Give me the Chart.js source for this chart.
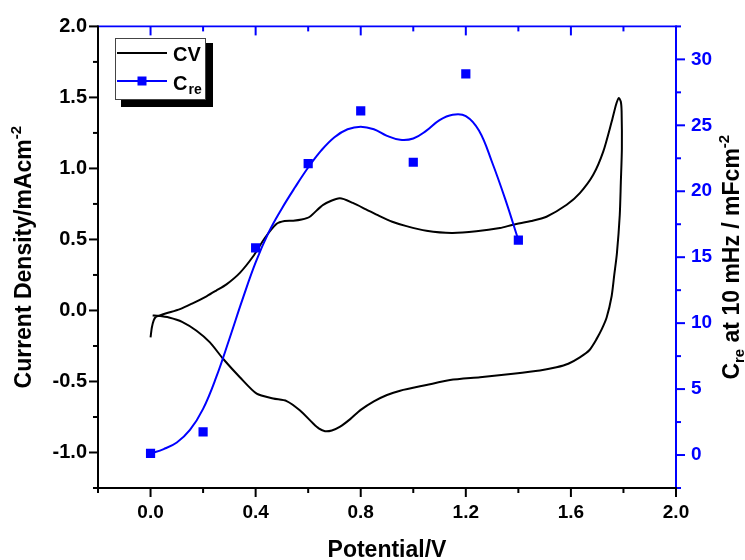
<!DOCTYPE html>
<html>
<head>
<meta charset="utf-8">
<script src="https://cdn.jsdelivr.net/npm/chart.js@4.4.1/dist/chart.umd.min.js"></script>
<style>
  html, body { margin: 0; padding: 0; background: #fff; }
</style>
</head>
<body>
<canvas id="myChart" width="745" height="560"></canvas>
<script>
// values

// CV loop: forward scan then return scan
let cvPotential = [0.000, 0.005, 0.012, 0.020, 0.035, 0.060, 0.112, 0.160, 0.213, 0.250, 0.289, 0.340, 0.390, 0.435, 0.480, 0.510, 0.543, 0.575, 0.606, 0.657, 0.720, 0.770, 0.820, 0.870, 0.920, 0.974, 1.050, 1.146, 1.240, 1.330, 1.380, 1.450, 1.507, 1.584, 1.634, 1.685, 1.723, 1.755, 1.772, 1.782, 1.790, 1.793, 1.794, 1.790, 1.786, 1.775, 1.765, 1.755, 1.736, 1.718, 1.698, 1.670, 1.634, 1.590, 1.545, 1.482, 1.380, 1.254, 1.140, 1.050, 0.950, 0.900, 0.850, 0.800, 0.760, 0.720, 0.690, 0.664, 0.640, 0.619, 0.568, 0.518, 0.467, 0.404, 0.340, 0.276, 0.226, 0.175, 0.120, 0.070, 0.030, 0.008];
let cvCurrent = [-0.19, -0.12, -0.07, -0.045, -0.035, -0.02, 0.009, 0.05, 0.10, 0.14, 0.184, 0.265, 0.38, 0.51, 0.61, 0.63, 0.632, 0.64, 0.66, 0.744, 0.79, 0.757, 0.712, 0.666, 0.625, 0.594, 0.562, 0.546, 0.557, 0.58, 0.604, 0.63, 0.66, 0.744, 0.826, 0.955, 1.118, 1.328, 1.45, 1.496, 1.47, 1.40, 1.14, 0.90, 0.674, 0.40, 0.25, 0.10, -0.05, -0.13, -0.20, -0.28, -0.33, -0.375, -0.40, -0.423, -0.446, -0.47, -0.49, -0.525, -0.565, -0.595, -0.64, -0.70, -0.765, -0.82, -0.845, -0.85, -0.83, -0.796, -0.703, -0.638, -0.62, -0.586, -0.47, -0.34, -0.225, -0.143, -0.08, -0.05, -0.038, -0.035];

// C_re measured points
let crePotential = [0.0, 0.2, 0.4, 0.6, 0.8, 1.0, 1.2, 1.4];
let creValue = [0.12, 1.75, 15.7, 22.1, 26.1, 22.2, 28.9, 16.3];

// smoothed blue curve as drawn in the figure
let fitPotential = [0, 0.05, 0.1, 0.15, 0.2, 0.25, 0.3, 0.35, 0.4, 0.45, 0.5, 0.55, 0.6, 0.65, 0.7, 0.75, 0.8, 0.85, 0.9, 0.95, 1.0, 1.05, 1.1, 1.15, 1.2, 1.25, 1.3, 1.35, 1.4];
let fitValue = [0.12, 0.45, 0.95, 1.9, 3.5, 5.9, 8.8, 11.8, 14.6, 16.9, 18.7, 20.3, 21.8, 23.1, 24.1, 24.7, 24.9, 24.7, 24.2, 23.9, 24.0, 24.6, 25.4, 25.8, 25.7, 24.6, 22.2, 19.4, 16.3];

let xTicks = [0.0, 0.4, 0.8, 1.2, 1.6, 2.0];
let xMinor = [-0.2, 0.2, 0.6, 1.0, 1.4, 1.8];
let yTicks = [-1.0, -0.5, 0.0, 0.5, 1.0, 1.5, 2.0];
let yMinor = [-1.25, -0.75, -0.25, 0.25, 0.75, 1.25, 1.75];
let y1Ticks = [0, 5, 10, 15, 20, 25, 30];
let y1Minor = [-2.5, 2.5, 7.5, 12.5, 17.5, 22.5, 27.5, 32.5];

const BLUE = '#0000ff';
const FONT = 'Liberation Sans, Arial, sans-serif';

function pts(xs, ys) {
    return xs.map((v, i) => ({x: v, y: ys[i]}));
}

// draw text made of pieces (for super/subscripts), centred on 0
function richText(ctx, parts) {
    let total = 0;
    parts.forEach(p => {
        ctx.font = 'bold ' + p.size + 'px ' + FONT;
        p.w = ctx.measureText(p.t).width;
        total += p.w;
    });
    let cx = -total / 2;
    parts.forEach(p => {
        ctx.font = 'bold ' + p.size + 'px ' + FONT;
        ctx.fillText(p.t, cx, p.dy || 0);
        cx += p.w;
    });
}

const framePlugin = {
    id: 'frame',
    afterDraw(chart) {
        const ctx = chart.ctx;
        const a = chart.chartArea;
        const sx = chart.scales.x, sy = chart.scales.y, sy1 = chart.scales.y1;

        function seg(x0, y0, x1, y1) {
            ctx.beginPath();
            ctx.moveTo(x0, y0);
            ctx.lineTo(x1, y1);
            ctx.stroke();
        }

        ctx.save();
        ctx.lineCap = 'butt';
        ctx.lineWidth = 2;

        // black ticks: bottom (outward) and left (outward)
        ctx.strokeStyle = '#000';
        xTicks.forEach(v => { let p = sx.getPixelForValue(v); seg(p, a.bottom, p, a.bottom + 9); });
        xMinor.forEach(v => { let p = sx.getPixelForValue(v); seg(p, a.bottom, p, a.bottom + 5); });
        yTicks.forEach(v => { let p = sy.getPixelForValue(v); seg(a.left, p, a.left - 9, p); });
        yMinor.forEach(v => { let p = sy.getPixelForValue(v); seg(a.left, p, a.left - 5, p); });

        // blue ticks: top (inward) and right (outward)
        ctx.strokeStyle = BLUE;
        xTicks.forEach(v => { let p = sx.getPixelForValue(v); seg(p, a.top, p, a.top + 9); });
        xMinor.forEach(v => { let p = sx.getPixelForValue(v); seg(p, a.top, p, a.top + 5); });
        y1Ticks.forEach(v => { let p = sy1.getPixelForValue(v); seg(a.right, p, a.right + 9, p); });
        y1Minor.forEach(v => { let p = sy1.getPixelForValue(v); seg(a.right, p, a.right + 5, p); });

        // axis lines
        ctx.strokeStyle = BLUE;
        ctx.lineWidth = 1.7;
        seg(a.left, a.top, a.right, a.top);
        ctx.lineWidth = 2;
        seg(a.right, a.top - 1, a.right, a.bottom + 1);
        ctx.strokeStyle = '#000';
        seg(a.left, a.top - 1, a.left, a.bottom + 1);
        seg(a.left - 1, a.bottom, a.right + 1, a.bottom);

        // axis titles
        ctx.fillStyle = '#000';
        ctx.textBaseline = 'alphabetic';
        ctx.textAlign = 'left';
        let cy = (a.top + a.bottom) / 2;

        ctx.save();
        ctx.translate(31, cy);
        ctx.rotate(-Math.PI / 2);
        richText(ctx, [
            {t: 'Current Density/mAcm', size: 23},
            {t: '-2', size: 15, dy: -10}
        ]);
        ctx.restore();

        ctx.save();
        ctx.translate(739, cy);
        ctx.rotate(-Math.PI / 2);
        richText(ctx, [
            {t: 'C', size: 23},
            {t: 're', size: 15, dy: 5},
            {t: ' at 10 mHz / mFcm', size: 23},
            {t: '-2', size: 15, dy: -10}
        ]);
        ctx.restore();

        ctx.save();
        ctx.translate((a.left + a.right) / 2, 557);
        richText(ctx, [{t: 'Potential/V', size: 23}]);
        ctx.restore();

        // legend box with drop shadow
        ctx.fillStyle = '#000';
        ctx.fillRect(121, 43, 92, 64);
        ctx.fillStyle = '#fff';
        ctx.fillRect(115, 38, 91, 62);
        ctx.strokeStyle = '#444';
        ctx.lineWidth = 1;
        ctx.strokeRect(115.5, 38.5, 90, 61);

        ctx.lineWidth = 2;
        ctx.strokeStyle = '#000';
        seg(117, 53, 167, 53);
        ctx.strokeStyle = BLUE;
        seg(117, 81, 167, 81);
        ctx.fillStyle = BLUE;
        ctx.fillRect(137.5, 76.5, 9, 9);

        ctx.fillStyle = '#000';
        ctx.font = 'bold 20px ' + FONT;
        ctx.fillText('CV', 173, 61);
        ctx.fillText('C', 173, 90);
        let cw = ctx.measureText('C').width;
        ctx.font = 'bold 14px ' + FONT;
        ctx.fillText('re', 173 + cw + 1, 94);

        ctx.restore();
    }
};

let myChart = new Chart(document.querySelector('#myChart').getContext('2d'), {
    type: 'scatter',
    data: {
        datasets: [{
            label: 'C_re points',
            data: pts(crePotential, creValue),
            yAxisID: 'y1',
            showLine: false,
            pointStyle: 'rect',
            pointRadius: 6.5,
            pointHoverRadius: 6.5,
            backgroundColor: BLUE,
            borderColor: BLUE,
            borderWidth: 0,
            order: 0
        }, {
            label: 'C_re',
            data: pts(fitPotential, fitValue),
            yAxisID: 'y1',
            showLine: true,
            tension: 0.4,
            pointRadius: 0,
            borderColor: BLUE,
            borderWidth: 2,
            order: 1
        }, {
            label: 'CV',
            data: pts(cvPotential, cvCurrent),
            yAxisID: 'y',
            showLine: true,
            tension: 0.25,
            pointRadius: 0,
            borderColor: '#000',
            borderWidth: 2,
            order: 2
        }]
    },
    options: {
        responsive: false,
        animation: false,
        layout: {padding: {top: 24, left: 0, right: 0, bottom: 0}},
        plugins: {
            legend: {display: false},
            tooltip: {enabled: false}
        },
        scales: {
            x: {
                type: 'linear',
                position: 'bottom',
                min: -0.2,
                max: 2.0,
                afterBuildTicks: s => { s.ticks = xTicks.map(v => ({value: v})); },
                afterFit: s => { s.height = 72; },
                grid: {display: false, drawTicks: false},
                border: {display: false},
                ticks: {
                    autoSkip: false,
                    maxRotation: 0,
                    padding: 13,
                    color: '#000',
                    font: {family: FONT, size: 19, weight: 'bold'},
                    callback: v => Number(v).toFixed(1)
                }
            },
            y: {
                type: 'linear',
                position: 'left',
                min: -1.25,
                max: 2.0,
                afterBuildTicks: s => { s.ticks = yTicks.map(v => ({value: v})); },
                afterFit: s => { s.width = 98; },
                grid: {display: false, drawTicks: false},
                border: {display: false},
                ticks: {
                    autoSkip: false,
                    padding: 11,
                    color: '#000',
                    font: {family: FONT, size: 20, weight: 'bold'},
                    callback: v => Number(v).toFixed(1)
                }
            },
            y1: {
                type: 'linear',
                position: 'right',
                min: -2.5,
                max: 32.5,
                afterBuildTicks: s => { s.ticks = y1Ticks.map(v => ({value: v})); },
                afterFit: s => { s.width = 69; },
                grid: {display: false, drawTicks: false},
                border: {display: false},
                ticks: {
                    autoSkip: false,
                    padding: 15,
                    color: BLUE,
                    font: {family: FONT, size: 19, weight: 'bold'},
                    callback: v => String(v)
                }
            }
        }
    },
    plugins: [framePlugin]
});
</script>
</body>
</html>
